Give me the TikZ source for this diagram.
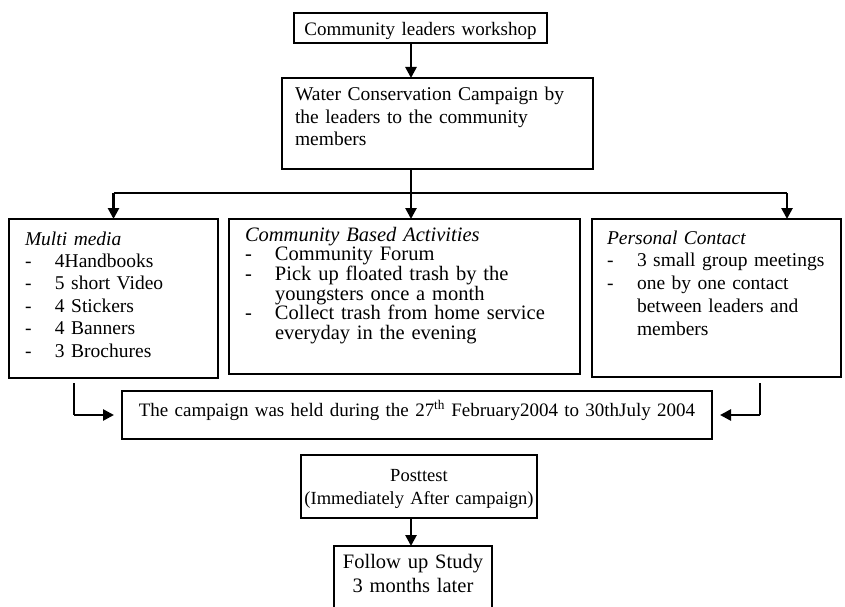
\documentclass[tikz,border=0pt]{standalone}
\usepackage{fontspec}
\setmainfont{Liberation Serif}
\usepackage{tikz}
\usetikzlibrary{arrows.meta}
\newcommand{\itm}[1]{\mbox{\makebox[30pt][l]{-}#1}}
\newcommand{\cnt}[1]{\mbox{\hspace*{30pt}#1}}
\tikzset{
  box/.style={draw=black,line width=1.3pt,inner ysep=0pt,outer sep=0pt,anchor=north west,align=left,font={\fontsize{19.5}{22}\selectfont}},
  cbox/.style={box,inner xsep=0pt,align=center},
  arrow/.style={-{Triangle[length=11pt,width=11pt]},line width=2.6pt},
  link/.style={line width=1.3pt},
}
\begin{document}
\begin{tikzpicture}[x=1pt,y=-1pt]
    \useasboundingbox (0,0) rectangle (845,607);
    \coordinate (axis) at (411,193);
    \coordinate (rcol) at (787,0);
    \coordinate (lcol) at (74,0);
    \coordinate (rcol2) at (760,0);
    % boxes
    \node[cbox,text width=253pt,text height=23pt,text depth=7pt,font={\fontsize{19}{22}\selectfont}] (ws) at (294,13) {Community leaders workshop};
    \node[box,text width=285pt,inner xsep=13pt,text height=23pt,text depth=68pt,font={\fontsize{19.5}{22.5}\selectfont}] (camp) at (282,78)
      {Water Conservation Campaign by\\the leaders to the community\\members};
    \node[box,text width=177pt,inner xsep=16pt,text height=26pt,text depth=133pt,font={\fontsize{19.5}{22.4}\selectfont}] (media) at (9,219)
      {\textit{Multi media}\\\itm{4Handbooks}\\\itm{5 short Video}\\\itm{4 Stickers}\\\itm{4 Banners}\\\itm{3 Brochures}};
    \node[box,text width=319pt,inner xsep=16pt,text height=22pt,text depth=133pt,font={\fontsize{20.5}{19.7}\selectfont}] (act) at (229,219)
      {\textit{Community Based Activities}\\\itm{Community Forum}\\\itm{Pick up floated trash by the}\\\cnt{youngsters once a month}\\\itm{Collect trash from home service}\\\cnt{everyday in the evening}};
    \node[box,text width=219pt,inner xsep=15pt,text height=25pt,text depth=133pt,font={\fontsize{19.5}{22.75}\selectfont}] (contact) at (592,219)
      {\textit{Personal Contact}\\\itm{3 small group meetings}\\\itm{one by one contact}\\\cnt{between leaders and}\\\cnt{members}};
    \node[cbox,text width=590pt,text height=25pt,text depth=23pt,font={\fontsize{19}{22}\selectfont}] (held) at (122,391)
      {The campaign was held during the 27\textsuperscript{th} February2004 to 30thJuly 2004};
    \node[cbox,text width=236pt,text height=26pt,text depth=37pt,font={\fontsize{18.5}{23}\selectfont}] (post) at (301,455)
      {\mbox{Posttest}\\\mbox{(Immediately After campaign)}};
    \node[cbox,text width=158pt,text height=22pt,text depth=60pt,font={\fontsize{20.5}{24}\selectfont}] (follow) at (334,546)
      {\mbox{Follow up Study}\\\mbox{3 months later}};
    % connectors
    \draw[arrow] (ws.south -| axis) -- (camp.north -| axis);
    \draw[link] (media.north |- axis) -- (rcol |- axis);
    \draw[arrow] (camp.south -| axis) -- (act.north -| axis);
    \draw[arrow] (media.north |- axis) -- (media.north);
    \draw[arrow] (rcol |- axis) -- (rcol |- contact.north);
    \draw[link,shorten <=5pt] (media.south -| lcol) -- (lcol |- held.west);
    \draw[arrow,shorten >=8pt] (lcol |- held.west) -- (held.west);
    \draw[link,shorten <=6pt] (contact.south -| rcol2) -- (rcol2 |- held.east);
    \draw[arrow,shorten >=8pt] (rcol2 |- held.east) -- (held.east);
    \draw[arrow] (post.south -| axis) -- (follow.north -| axis);
\end{tikzpicture}
\end{document}
